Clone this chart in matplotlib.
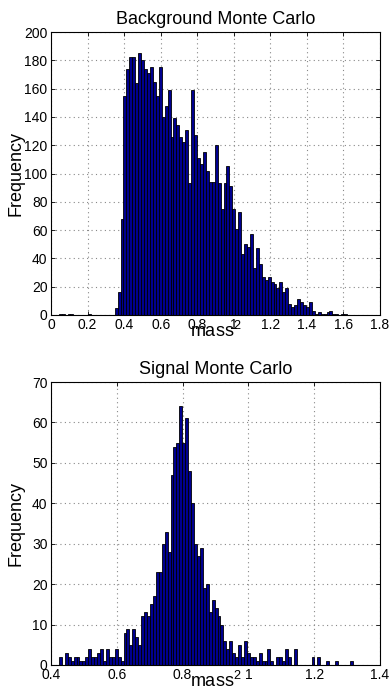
import numpy as np
import matplotlib
matplotlib.use("Agg")
import matplotlib.pyplot as plt
from matplotlib.ticker import FuncFormatter

plt.rcParams['font.family'] = ['Liberation Sans', 'DejaVu Sans']
plt.rcParams['mathtext.default'] = 'regular'

# ---------------- data ----------------
bg_range = (0.01, 1.62)          # histogram data range (100 bins)
bg_counts = [0, 0, 1, 1, 0, 1, 1, 0, 0, 0, 0, 0, 1, 0, 0, 0, 0, 0, 0, 0, 0,
             5, 16, 68, 155, 174, 182, 182, 164, 185, 180, 174, 171, 175, 165, 155, 175, 140, 148, 159, 126,
             139, 134, 126, 122, 131, 93, 159, 127, 111, 107, 115, 102, 94, 94, 120, 93, 75,
             93, 105, 91, 75, 61, 73, 43, 50, 48, 57, 33, 47, 36,
             27, 25, 27, 23, 22, 19, 23, 16, 19,
             8, 6, 7, 11, 9, 7, 6, 9, 3, 1, 2, 1, 1, 2, 3, 1, 1, 0, 1, 1]

sig_range = (0.424, 1.317)
sig_counts = [2, 0, 3, 2, 1, 2, 2, 1, 1, 2, 4, 2, 2, 3, 4, 1, 4, 2, 2, 4, 2, 1,
              8, 9, 5, 9, 7, 5, 12, 13, 12, 15, 17, 23, 23, 30, 33, 28, 47, 54, 55, 64,
              55, 61, 48, 40, 30, 27, 29, 19, 20, 13, 16, 14, 12,
              10, 6, 4, 6, 3, 2, 5, 2, 6, 3, 2, 2, 1, 3, 1, 1, 4, 1, 0, 2, 2, 1, 4, 2, 0, 4,
              0, 0, 0, 0, 0, 2, 0, 2, 0, 0, 1, 0, 0, 1, 0, 0, 0, 0, 1]

bg_title = "Background Monte Carlo"
sig_title = "Signal Monte Carlo"
xlabel = "mass$^2$"
ylabel = "Frequency"

bg_xticks = [0, 0.2, 0.4, 0.6, 0.8, 1.0, 1.2, 1.4, 1.6, 1.8]
bg_yticks = [0, 20, 40, 60, 80, 100, 120, 140, 160, 180, 200]
sig_xticks = [0.4, 0.6, 0.8, 1.0, 1.2, 1.4]
sig_yticks = [0, 10, 20, 30, 40, 50, 60, 70]

# ---------------- style ----------------
W, H = 392, 691
fig = plt.figure(figsize=(W / 100, H / 100), dpi=100)
face = (0, 0, 0.5625)

def fmt(v, pos):
    return "%g" % v

def draw(ax, rng, counts, xticks, yticks, title):
    n = len(counts)
    edges = np.linspace(rng[0], rng[1], n + 1)
    ax.bar(edges[:-1], counts, width=np.diff(edges), align='edge',
           color=face, edgecolor='black', linewidth=0.6, zorder=2)
    ax.set_xlim(xticks[0], xticks[-1])
    ax.set_ylim(yticks[0], yticks[-1])
    ax.set_xticks(xticks)
    ax.set_yticks(yticks)
    ax.xaxis.set_major_formatter(FuncFormatter(fmt))
    ax.yaxis.set_major_formatter(FuncFormatter(fmt))
    ax.grid(True, linestyle=(0, (1, 3)), color='#888888', linewidth=0.8, zorder=0)
    ax.set_axisbelow(True)
    ax.tick_params(direction='in', length=3, width=0.6, top=True, right=True,
                   labelsize=10, pad=2.5, colors='black')
    for s in ax.spines.values():
        s.set_linewidth(0.8)
        s.set_zorder(3)
    ax.set_title(title, fontsize=13, pad=6)
    ax.set_xlabel(xlabel, fontsize=13)
    ax.xaxis.label.set_va('baseline')
    ax.xaxis.set_label_coords(0.5, -0.077)
    ax.set_ylabel(ylabel, fontsize=13)
    ax.yaxis.set_label_coords(-0.082, 0.5)

left = 51 / W
width = 329 / W
h = 283 / H
ax1 = fig.add_axes([left, 1 - 315 / H, width, h])
ax2 = fig.add_axes([left, 1 - 665 / H, width, h])

draw(ax1, bg_range, bg_counts, bg_xticks, bg_yticks, bg_title)
draw(ax2, sig_range, sig_counts, sig_xticks, sig_yticks, sig_title)

fig.savefig("out.png", dpi=100)
